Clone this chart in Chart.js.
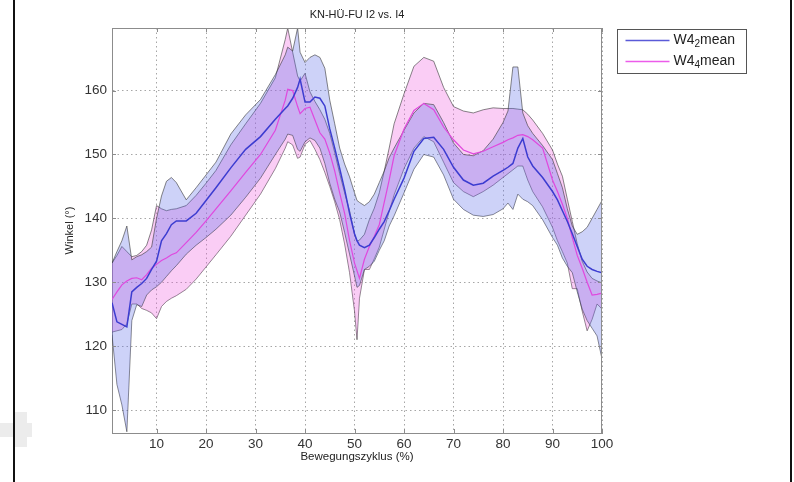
<!DOCTYPE html>
<html>
<head>
<meta charset="utf-8">
<script src="https://cdn.jsdelivr.net/npm/chart.js@4.4.1/dist/chart.umd.min.js"></script>
<style>
	html, body { margin: 0; padding: 0; background: #fff; }
	#wrap { width: 794px; height: 482px; }
</style>
</head>
<body>
<div id="wrap"><canvas id="winkel" width="794" height="482"></canvas></div>
<script>
const colBlue = "#3c3cd0";
const colPink = "#e048de";
const fillBlue = "rgba(88, 105, 232, 0.3)";
const fillPink = "rgba(238, 88, 222, 0.3)";
const edgeGrey = "rgba(55, 55, 55, 0.6)";

//#region Data - Bewegungszyklus (%) and Winkel (°)
const cycle = [
	1, 2, 3, 4, 5, 6, 7, 8, 9, 10, 11, 12, 13, 14,
	16, 18, 20, 22, 25, 28, 31, 34,
	36, 36.5, 37.5, 38.5, 39,
	40, 41, 42, 43, 44, 45, 46, 47, 48, 49, 50,
	50.5,
	51, 52, 53, 54, 55, 56, 57, 58,
	60, 62, 64, 66, 68, 70, 72, 74, 76, 78, 80,
	81, 82, 83, 84, 85, 86,
	88, 90,
	91, 92, 93, 94, 95, 96, 97, 98, 99, 100,
];

// W4_2: mean and band
const w42Mean = [
	126.8, 123.8, 123.4, 123.0, 128.5, 129.2, 129.8, 130.6, 132.0, 133.3, 136.5, 137.6, 139.0, 139.6,
	139.6, 140.8, 142.8, 144.8, 147.9, 150.8, 152.8, 155.5,
	157.2, 157.6, 158.8, 160.5, 161.8,
	158.2, 158.2, 159.0, 158.8, 157.6, 154.0, 151.0, 147.8, 144.5, 140.8, 137.6,
	136.5,
	135.8, 135.4, 135.8, 137.0, 138.3, 139.5, 141.2, 143.0,
	146.3, 150.5, 152.5, 152.7, 150.8, 148.0, 146.0, 145.2, 145.5, 146.6, 147.5,
	148.0, 148.6, 151.0, 152.5, 149.6, 148.2,
	146.4, 144.2,
	142.9, 141.2, 139.5, 137.6, 135.6, 133.6, 132.5, 132.0, 131.7, 131.5,
];
const w42Upper = [
	133.0, 134.8, 136.5, 138.8, 133.5, 134.0, 134.3, 134.8, 135.5, 140.0, 143.5, 145.8, 146.4, 145.6,
	142.9, 144.8, 146.8, 148.8, 153.2, 156.2, 158.6, 162.5,
	165.6, 166.8, 166.2, 169.8, 166.0,
	164.4, 165.2, 165.6, 165.2, 163.5, 158.5, 154.8, 151.0, 148.5, 146.5, 144.0,
	142.8,
	142.5, 142.0, 142.6, 143.8, 145.6, 147.4, 149.5, 151.0,
	153.8, 156.5, 158.0, 157.8, 155.0, 151.8, 150.0, 149.8, 150.6, 152.4, 155.0,
	156.8, 163.7, 163.7, 156.5, 154.5, 153.3,
	151.4, 149.2,
	147.0, 144.8, 141.5, 138.8, 137.5, 137.9, 138.6, 140.0, 141.4, 142.8,
];
const w42Lower = [
	121.8, 114.0, 110.8, 106.6, 124.0, 126.5, 126.2, 128.0, 128.8, 129.3, 130.0, 130.9, 131.8, 132.6,
	134.4, 135.8, 137.0, 138.3, 140.5, 143.3, 146.3, 150.0,
	152.4, 153.2, 153.0, 150.8, 150.5,
	152.0, 152.6, 152.2, 151.0, 148.6, 145.5, 143.0, 141.0, 137.8, 134.4, 131.0,
	129.2,
	129.5, 132.0, 132.5, 133.3, 135.0, 136.5, 138.8, 140.4,
	144.0, 147.7, 150.0, 149.6, 146.8, 143.0, 141.4, 140.5, 140.3, 140.6, 141.5,
	142.4, 141.4, 143.8, 143.0, 142.6, 142.0,
	139.8, 137.0,
	135.8, 133.8, 132.5, 131.5, 128.5, 125.8, 124.0, 122.8, 121.6, 118.0,
];

// W4_4: mean and band
const w44Mean = [
	127.3, 128.5, 129.6, 130.2, 130.6, 130.7, 130.4, 131.2, 132.2, 132.8, 133.4, 133.8, 134.3, 134.6,
	136.2, 137.8, 139.6, 141.5, 144.3, 147.2, 150.0, 153.8,
	158.5, 160.2, 160.0, 157.5, 156.4,
	157.2, 157.4, 155.4, 153.4, 152.4, 150.2, 147.4, 144.0, 140.8, 136.5, 133.0,
	131.8,
	130.6, 133.6, 135.6, 137.2, 139.0, 142.5, 146.0, 149.8,
	154.0, 156.9, 158.0, 157.0, 154.3, 152.3, 150.7, 150.1, 150.5, 151.2, 151.9,
	152.3, 152.6, 153.0, 153.1, 152.8, 152.3,
	151.0, 146.0,
	144.2, 142.2, 140.0, 137.0, 134.2, 132.2, 130.0, 128.0, 128.1, 128.3,
];
const w44Upper = [
	133.0, 134.2, 135.6, 134.8, 134.0, 134.2, 134.8, 135.8, 138.2, 142.0, 141.5, 141.2, 141.4, 141.5,
	142.0, 143.6, 145.5, 147.5, 151.5, 154.8, 158.0, 162.0,
	168.0, 169.8, 166.0, 162.3, 161.5,
	162.7, 159.8, 158.3, 157.0, 155.5, 153.3, 150.3, 147.0, 144.0, 141.2, 137.5,
	136.4,
	136.6, 137.5, 139.8, 141.6, 144.0, 147.4, 151.0, 154.8,
	159.5, 163.8, 165.2, 164.6, 160.5, 157.5, 156.8, 156.5, 157.0, 157.3, 157.2,
	157.2, 157.2, 157.1, 157.0, 156.3, 155.4,
	153.3, 150.7,
	148.5, 146.6, 143.0, 139.5, 136.0, 133.3, 131.6, 130.6, 130.2, 129.9,
];
const w44Lower = [
	122.2, 122.4, 122.6, 123.5, 126.6, 126.6, 125.9, 125.6, 125.2, 124.3, 126.2, 127.0, 127.5, 127.9,
	128.9, 130.5, 132.4, 134.3, 137.2, 140.5, 143.8, 147.8,
	151.0, 152.0, 151.5, 149.4, 149.6,
	151.6, 152.2, 150.8, 149.2, 147.2, 145.0, 142.6, 139.8, 136.0, 131.5, 125.5,
	121.0,
	127.5, 132.0, 132.0, 133.7, 135.5, 138.3, 141.1, 143.7,
	147.8, 151.0, 152.8, 152.0, 148.8, 145.6, 144.2, 143.4, 144.2, 145.2, 146.4,
	147.0, 147.6, 148.2, 148.2, 146.0, 144.2,
	141.8, 138.6,
	136.5, 134.8, 133.0, 129.0, 129.0, 125.5, 122.4, 124.2, 126.6, 125.8,
];

// legend entries: base, subscript, rest
const legendNames = [
	["W4", "2", "mean"],
	["W4", "4", "mean"],
];
//#endregion

const toPoints = (values) => cycle.map((x, i) => ({ x: x, y: values[i] }));
const fontFamily = "'Liberation Sans', Arial, Helvetica, sans-serif";

const bandStyle = {
	borderColor: edgeGrey,
	borderWidth: 1,
	pointRadius: 0,
	tension: 0,
};

// frame, axis box, inner tick marks and the boxed legend
const figurePlugin = {
	id: "figure",
	beforeDraw(chart) {
		const ctx = chart.ctx;
		ctx.save();
		ctx.fillStyle = "#fff";
		ctx.fillRect(0, 0, chart.width, chart.height);
		// faint smudge at the lower left of the scan
		ctx.fillStyle = "#ececec";
		ctx.fillRect(0, 423, 32, 14);
		ctx.fillRect(15, 412, 12, 35);
		ctx.restore();
	},
	afterDraw(chart) {
		const { ctx, chartArea: a, scales } = chart;
		ctx.save();
		ctx.strokeStyle = "#8c8c8c";
		ctx.lineWidth = 1;
		ctx.beginPath();
		ctx.moveTo(a.left, a.top + 0.5);
		ctx.lineTo(a.right, a.top + 0.5);
		ctx.moveTo(a.right - 0.5, a.top);
		ctx.lineTo(a.right - 0.5, a.bottom);
		scales.x.ticks.forEach((t) => {
			const px = Math.round(scales.x.getPixelForValue(t.value)) + 0.5;
			ctx.moveTo(px, a.bottom);
			ctx.lineTo(px, a.bottom - 4);
			ctx.moveTo(px, a.top);
			ctx.lineTo(px, a.top + 4);
		});
		scales.y.ticks.forEach((t) => {
			const py = Math.round(scales.y.getPixelForValue(t.value)) + 0.5;
			ctx.moveTo(a.left, py);
			ctx.lineTo(a.left + 4, py);
			ctx.moveTo(a.right, py);
			ctx.lineTo(a.right - 4, py);
		});
		ctx.stroke();

		// outer black frame of the scan
		ctx.fillStyle = "#111";
		ctx.fillRect(13, 0, 2, chart.height);
		ctx.fillRect(790, 0, 2, chart.height);

		// legend box
		const lx = a.right + 15.5;
		const ly = a.top + 1.5;
		ctx.fillStyle = "#fff";
		ctx.strokeStyle = "#555";
		ctx.fillRect(lx, ly, 129, 44);
		ctx.strokeRect(lx, ly, 129, 44);
		const lineCols = ["#5a5ad8", "#ec5cea"];
		legendNames.forEach((name, i) => {
			const y = ly + 11 + i * 21;
			ctx.strokeStyle = lineCols[i];
			ctx.lineWidth = 1.3;
			ctx.beginPath();
			ctx.moveTo(lx + 8, y);
			ctx.lineTo(lx + 52, y);
			ctx.stroke();
			ctx.fillStyle = "#222";
			ctx.textBaseline = "middle";
			ctx.font = "14px " + fontFamily;
			let tx = lx + 56;
			ctx.fillText(name[0], tx, y);
			tx += ctx.measureText(name[0]).width;
			ctx.font = "10px " + fontFamily;
			ctx.fillText(name[1], tx, y + 4);
			tx += ctx.measureText(name[1]).width;
			ctx.font = "14px " + fontFamily;
			ctx.fillText(name[2], tx, y);
		});
		ctx.restore();
	},
};

new Chart(document.getElementById("winkel"), {
	type: "line",
	data: {
		datasets: [
			{
				label: "W4_2 mean",
				data: toPoints(w42Mean),
				borderColor: colBlue,
				borderWidth: 1.5,
				pointRadius: 0,
				fill: false,
			},
			{
				label: "W4_4 mean",
				data: toPoints(w44Mean),
				borderColor: colPink,
				borderWidth: 1.2,
				pointRadius: 0,
				fill: false,
			},
			{
				label: "W4_2 upper",
				data: toPoints(w42Upper),
				backgroundColor: fillBlue,
				fill: "+1",
				...bandStyle,
			},
			{
				label: "W4_2 lower",
				data: toPoints(w42Lower),
				fill: false,
				...bandStyle,
			},
			{
				label: "W4_4 upper",
				data: toPoints(w44Upper),
				backgroundColor: fillPink,
				fill: "+1",
				...bandStyle,
			},
			{
				label: "W4_4 lower",
				data: toPoints(w44Lower),
				fill: false,
				...bandStyle,
			},
		],
	},
	options: {
		responsive: false,
		animation: false,
		devicePixelRatio: 1,
		layout: {
			padding: { left: 0, right: 192, top: 0, bottom: 0 },
		},
		plugins: {
			legend: { display: false },
			tooltip: { enabled: false },
			title: {
				display: true,
				text: "KN-HÜ-FU I2 vs. I4",
				fullSize: false,
				color: "#222",
				font: { family: fontFamily, size: 11, weight: "normal" },
				padding: { top: 8.4, bottom: 6.4 },
			},
		},
		scales: {
			x: {
				type: "linear",
				min: 1,
				max: 100,
				afterFit: (scale) => { scale.height = 49; },
				ticks: {
					stepSize: 10,
					includeBounds: false,
					padding: 3,
					color: "#333",
					font: { family: fontFamily, size: 13.5 },
				},
				grid: { color: "#a6a6a6", lineWidth: 1, drawTicks: false },
				border: { display: true, color: "#8c8c8c", dash: [1.5, 3] },
				title: {
					display: true,
					text: "Bewegungszyklus (%)",
					color: "#222",
					font: { family: fontFamily, size: 11.5 },
					padding: { top: 0, bottom: 18 },
				},
			},
			y: {
				min: 106.4,
				max: 169.8,
				afterFit: (scale) => { scale.width = 112; },
				ticks: {
					stepSize: 10,
					includeBounds: false,
					padding: 5,
					color: "#333",
					font: { family: fontFamily, size: 13.5 },
				},
				grid: { color: "#a6a6a6", lineWidth: 1, drawTicks: false },
				border: { display: true, color: "#8c8c8c", dash: [1.5, 3] },
				title: {
					display: true,
					text: "Winkel (°)",
					color: "#222",
					font: { family: fontFamily, size: 11 },
					padding: { top: 63, bottom: 0 },
				},
			},
		},
	},
	plugins: [figurePlugin],
});
</script>
</body>
</html>
